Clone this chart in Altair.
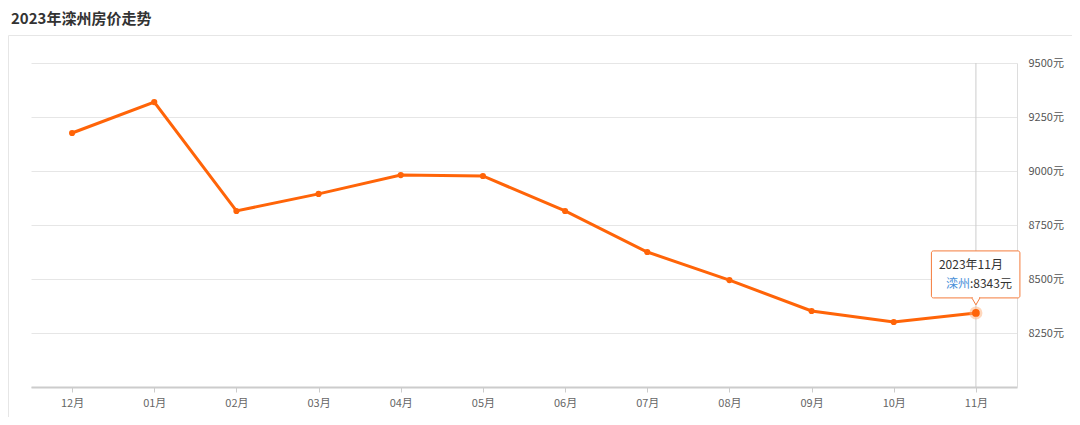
import altair as alt
import pandas as pd

title_text = "2023年滦州房价走势"
months = ["12月", "01月", "02月", "03月", "04月", "05月", "06月", "07月", "08月", "09月", "10月", "11月"]
prices = [9176, 9319, 8815, 8894, 8981, 8977, 8815, 8625, 8495, 8352, 8301, 8343]
hover_label = "2023年11月"
city = "滦州"
y_ticks = [8000, 8250, 8500, 8750, 9000, 9250, 9500]

df = pd.DataFrame({"month": months, "price": prices})
last = df.iloc[[-1]].copy()
last["label"] = hover_label
last["city"] = city
last["value"] = ":" + last["price"].astype(str) + "元"
one = pd.DataFrame({"k": [0]})

FONT = "Noto Sans CJK SC"
ORANGE = "#ff6408"
W, H = 986, 324

x_enc = alt.X(
    "month:N", sort=months,
    scale=alt.Scale(type="point", padding=0.5),
    axis=alt.Axis(title=None, domainColor="#cccccc", domainWidth=2, tickColor="#cccccc",
                  tickSize=5, labelColor="#666666", labelFontSize=11, labelPadding=5,
                  labelFont=FONT, grid=False, labelAngle=0),
)
y_enc = alt.Y(
    "price:Q",
    scale=alt.Scale(domain=[8000, 9500], nice=False, zero=False),
    axis=alt.Axis(orient="right", values=y_ticks,
                  labelExpr="datum.value == 8000 ? '' : datum.value + '元'",
                  title=None, domain=True, domainColor="#dddddd", ticks=False,
                  labelPadding=11, gridColor="#e6e6e6", labelColor="#555555",
                  labelFontSize=11, labelFont=FONT),
)

frame = alt.Chart(one).mark_rect(fill="transparent", stroke="#e6e6e6", strokeWidth=1).encode(
    x=alt.value(-22.5), x2=alt.value(W + 80), y=alt.value(-27.5), y2=alt.value(H + 60)
)
title = alt.Chart(one).mark_text(
    text=title_text, align="left", baseline="middle", fontSize=15, fontWeight="bold",
    font=FONT, color="#333333"
).encode(x=alt.value(-20), y=alt.value(-44))

base = alt.Chart(df).encode(x=x_enc, y=y_enc)
lastbase = alt.Chart(last).encode(x=x_enc, y=y_enc)

rule = alt.Chart(last).mark_rule(color="#cccccc", strokeWidth=1).encode(
    x=x_enc, y=alt.value(0), y2=alt.value(H)
)
line = base.mark_line(color=ORANGE, strokeWidth=3)
pts = base.mark_circle(size=38, color=ORANGE, opacity=1)
halo = lastbase.mark_circle(size=170, color="#ffb07a", opacity=0.5)
hp = lastbase.mark_circle(size=60, color=ORANGE, opacity=1)

box = lastbase.mark_rect(
    fill="white", stroke="#f47c3c", strokeWidth=1, cornerRadius=2,
    xOffset=-44.5, x2Offset=44, yOffset=-62, y2Offset=-15
).encode(x2=alt.X2("month"), y2=alt.Y2("price"))
tri = lastbase.mark_point(
    shape="triangle-down", filled=True, fill="white", stroke="#f47c3c",
    strokeWidth=1, size=64, opacity=1, yOffset=-11.5
)
gap = lastbase.mark_rect(
    fill="white", xOffset=-3.2, x2Offset=3.2, yOffset=-16, y2Offset=-14
).encode(x2=alt.X2("month"), y2=alt.Y2("price"))
t1 = lastbase.mark_text(
    align="left", baseline="middle", dx=-37, dy=-47.5, fontSize=12, font=FONT, color="#333333"
).encode(text="label:N")
t2 = lastbase.mark_text(
    align="right", baseline="middle", dx=-6, dy=-29, fontSize=12, font=FONT, color="#4a90d9"
).encode(text="city:N")
t3 = lastbase.mark_text(
    align="left", baseline="middle", dx=-6, dy=-29, fontSize=12, font=FONT, color="#333333"
).encode(text="value:N")

chart = alt.layer(
    frame, title, rule, line, pts, halo, hp, box, tri, gap, t1, t2, t3
).properties(
    width=W, height=H,
    background="white",
    autosize=alt.AutoSizeParams(type="none"),
    padding={"left": 23, "top": 55, "right": 55, "bottom": 30},
).configure_view(strokeWidth=0, stroke="transparent")

chart.save("out.html", embed_options={"renderer": "svg", "actions": False})
